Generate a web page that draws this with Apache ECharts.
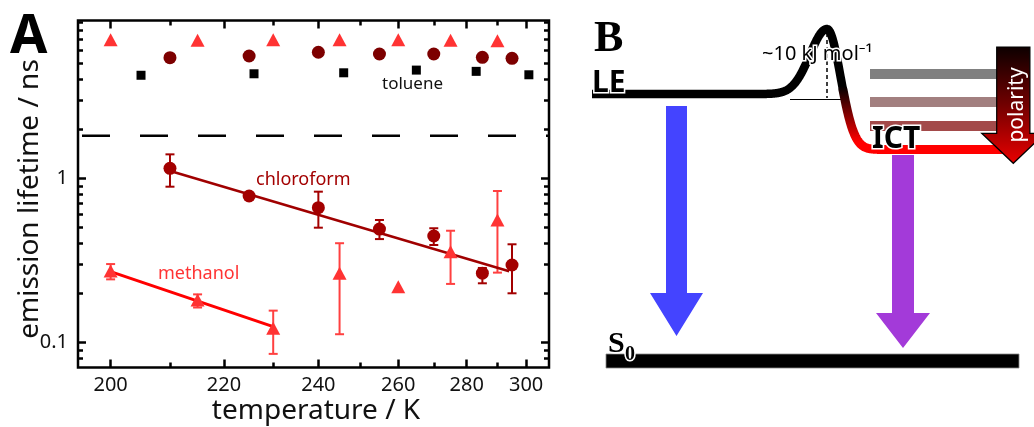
<!DOCTYPE html>
<html>
<head>
<meta charset="utf-8">
<script src="https://cdn.jsdelivr.net/npm/echarts@6/dist/echarts.min.js"></script>
<style>
  html, body { margin: 0; padding: 0; background: #fff; }
  #chart { width: 1034px; height: 427px; }
</style>
</head>
<body>
<div id="chart"></div>
<script>
// Emission lifetimes (ns) versus temperature (K), plotted as log(tau) against 1/T.
const methanolT      = [200, 215, 230, 245, 260, 275, 290];
const methanolTau    = [0.272, 0.181, 0.122, 0.264, 0.218, 0.357, 0.557];
const methanolLo     = [0.242, 0.163, 0.085, 0.112, 0.218, 0.227, 0.266];
const methanolHi     = [0.300, 0.196, 0.156, 0.402, 0.218, 0.479, 0.837];
const methanolLong   = [7.0, 6.95, 7.0, 7.0, 7.0, 6.95, 6.9];

const chloroformT    = [210, 225, 240, 255, 270, 285, 295];
const chloroformTau  = [1.151, 0.780, 0.662, 0.490, 0.445, 0.264, 0.296];
const chloroformLo   = [0.889, 0.745, 0.500, 0.426, 0.392, 0.229, 0.199];
const chloroformHi   = [1.400, 0.815, 0.829, 0.557, 0.496, 0.284, 0.396];
const chloroformLong = [5.44, 5.57, 5.87, 5.73, 5.73, 5.47, 5.39];

const tolueneT       = [205, 226, 246, 265, 283, 301];
const tolueneTau     = [4.25, 4.34, 4.40, 4.57, 4.49, 4.28];

// Arrhenius fits (straight lines in log(tau) vs 1/T)
const methanolFitT     = [200, 230];
const methanolFitTau   = [0.2696, 0.1245];
const chloroformFitT   = [210.5, 294];
const chloroformFitTau = [1.097, 0.271];

const breakTau = 1.82;           // dashed separator between the two lifetime regimes
const tempRange = [194.9, 308.5];
const tauRange = [0.0702, 9.17];
const tempMajor = [200, 220, 240, 260, 280, 300];
const tempMinor = [210, 230, 250, 270, 290];
const tauMajor = [0.1, 1];
const tauMinor = [0.08, 0.09, 0.2, 0.3, 0.4, 0.5, 0.6, 0.7, 0.8, 0.9, 2, 3, 4, 5, 6, 7, 8, 9];

const FONT = '"Noto Sans", "DejaVu Sans", sans-serif';
const inv = T => 1000 / T;
const lg = v => Math.log10(v);
const pts = (T, tau) => T.map((t, i) => [inv(t), lg(tau[i])]);
const bars = (T, lo, hi) => T.map((t, i) => [inv(t), lg(lo[i]), lg(hi[i])]);

const xMin = inv(tempRange[1]), xMax = inv(tempRange[0]);
const yMin = lg(tauRange[0]), yMax = lg(tauRange[1]);

function xAxisDef(pos, ticks, len, withLabels) {
  return {
    type: 'value', position: pos, min: xMin, max: xMax, inverse: true,
    splitLine: { show: false }, axisLine: { show: false, onZero: false },
    axisTick: { show: true, inside: true, length: len, customValues: ticks.map(inv),
                lineStyle: { color: '#000', width: 2.5 } },
    axisLabel: withLabels ? {
      show: true, customValues: ticks.map(inv), margin: 8,
      formatter: v => String(Math.round(1000 / v)),
      fontSize: 20, color: '#111', fontFamily: FONT
    } : { show: false }
  };
}
function yAxisDef(pos, ticks, len, withLabels) {
  return {
    type: 'value', position: pos, min: yMin, max: yMax,
    splitLine: { show: false }, axisLine: { show: false, onZero: false },
    axisTick: { show: true, inside: true, length: len, customValues: ticks.map(lg),
                lineStyle: { color: '#000', width: 2.5 } },
    axisLabel: withLabels ? {
      show: true, customValues: ticks.map(lg), margin: 10,
      formatter: v => String(+Math.pow(10, v).toPrecision(3)),
      fontSize: 20, color: '#111', fontFamily: FONT
    } : { show: false }
  };
}

function errorSeries(data, color) {
  return {
    type: 'custom', xAxisIndex: 0, yAxisIndex: 0, data: data, z: 2,
    encode: { x: 0, y: [1, 2] },
    renderItem: (params, api) => {
      const x = api.value(0);
      const lo = api.coord([x, api.value(1)]);
      const hi = api.coord([x, api.value(2)]);
      if (Math.abs(lo[1] - hi[1]) < 1) return null;
      const w = 4.5, st = { stroke: color, lineWidth: 2 };
      return { type: 'group', children: [
        { type: 'line', shape: { x1: hi[0], y1: hi[1], x2: lo[0], y2: lo[1] }, style: st },
        { type: 'line', shape: { x1: hi[0] - w, y1: hi[1], x2: hi[0] + w, y2: hi[1] }, style: st },
        { type: 'line', shape: { x1: lo[0] - w, y1: lo[1], x2: lo[0] + w, y2: lo[1] }, style: st }
      ]};
    }
  };
}
function scatter(data, symbol, size, color) {
  return { type: 'scatter', data: data, symbol: symbol, symbolSize: size, z: 4,
           itemStyle: { color: color, opacity: 1 }, silent: true };
}
function fitLine(T, tau, color, width) {
  return { type: 'line', data: pts(T, tau), symbol: 'none', z: 3, silent: true,
           lineStyle: { color: color, width: width } };
}

// ---- energy-level scheme (panel B) ----
const LE_Y = 94, ICT_Y = 149.5, PEAK_X = 827, PEAK_Y = 29;
function barrier(x) {
  if (x <= PEAK_X) return LE_Y - (LE_Y - PEAK_Y) * Math.exp(-Math.pow((x - PEAK_X) / 17, 2) / 2);
  return ICT_Y - (ICT_Y - PEAK_Y) * Math.exp(-Math.pow((x - PEAK_X) / 13.5, 2) / 2);
}
const curveA = [], curveB = [];
for (let x = 592; x <= 843; x += 0.5) curveA.push([x, barrier(x)]);
for (let x = 843; x <= 1002; x += 0.5) curveB.push([x, barrier(x)]);

function downArrow(cx, top, headTop, tip, shaftHalf, headHalf, fill, stroke) {
  return { type: 'polygon', z: 10,
    shape: { points: [[cx - shaftHalf, top], [cx + shaftHalf, top], [cx + shaftHalf, headTop],
                      [cx + headHalf, headTop], [cx, tip], [cx - headHalf, headTop], [cx - shaftHalf, headTop]] },
    style: { fill: fill, stroke: stroke || null, lineWidth: stroke ? 1.2 : 0 } };
}
function label(text, x, y, font, opts) {
  return { type: 'text', z: 20, x: x, y: y,
    style: Object.assign({ text: text, font: font, fill: '#000', align: 'left', verticalAlign: 'middle' }, opts || {}) };
}
const outline = { stroke: '#fff', lineWidth: 3 };

const option = {
  animation: false,
  backgroundColor: '#fff',
  grid: { left: 78, top: 20.5, right: 485, bottom: 59.5, show: true,
          borderColor: '#000', borderWidth: 2.5, backgroundColor: 'transparent' },
  xAxis: [
    xAxisDef('bottom', tempMajor, 8, true),
    xAxisDef('bottom', tempMinor, 5, false),
    xAxisDef('top', tempMajor, 8, false),
    xAxisDef('top', tempMinor, 5, false)
  ],
  yAxis: [
    yAxisDef('left', tauMajor, 8, true),
    yAxisDef('left', tauMinor, 5, false),
    yAxisDef('right', tauMajor, 8, false),
    yAxisDef('right', tauMinor, 5, false)
  ],
  series: [
    { type: 'line', data: [[xMax, lg(breakTau)], [xMin, lg(breakTau)]], symbol: 'none', z: 2, silent: true,
      lineStyle: { color: '#000', width: 2.5, type: [28, 30], dashOffset: 54 } },
    errorSeries(bars(chloroformT, chloroformLo, chloroformHi), '#a30000'),
    errorSeries(bars(methanolT, methanolLo, methanolHi), '#ff4040'),
    fitLine(chloroformFitT, chloroformFitTau, '#a00000', 2.5),
    fitLine(methanolFitT, methanolFitTau, '#ff0000', 3),
    scatter(pts(chloroformT, chloroformTau), 'circle', 13, '#a30000'),
    scatter(pts(methanolT, methanolTau), 'triangle', [14, 13], '#ff3333'),
    scatter(pts(methanolT, methanolLong), 'triangle', [14, 13], '#ff3333'),
    scatter(pts(chloroformT, chloroformLong), 'circle', 13, '#7d0000'),
    scatter(pts(tolueneT, tolueneTau), 'rect', 9, '#000')
  ],
  graphic: { elements: [
    // panel A annotations
    label('A', 10, 38, 'bold 54px ' + FONT),
    label('toluene', 382, 84, '17px ' + FONT, { fill: '#111' }),
    label('chloroform', 256, 180, '18px ' + FONT, { fill: '#a30000' }),
    label('methanol', 158, 274, '18px ' + FONT, { fill: '#ff3333' }),
    label('temperature / K', 316, 411, '28px ' + FONT, { align: 'center', fill: '#111' }),
    { type: 'text', z: 20, x: 30, y: 199, rotation: Math.PI / 2,
      style: { text: 'emission lifetime / ns', font: '28px ' + FONT, fill: '#111', align: 'center', verticalAlign: 'middle' } },

    // panel B
    label('B', 594, 40, 'bold 44px "Liberation Serif", serif'),
    { type: 'rect', z: 5, shape: { x: 870, y: 69, width: 130, height: 10 }, style: { fill: '#808080' } },
    { type: 'rect', z: 5, shape: { x: 870, y: 97, width: 130, height: 10 }, style: { fill: '#a27f7f' } },
    { type: 'rect', z: 5, shape: { x: 870, y: 121, width: 130, height: 10 }, style: { fill: '#a34a4a' } },
    { type: 'line', z: 6, shape: { x1: 790, y1: 99.5, x2: 841, y2: 99.5 }, style: { stroke: '#000', lineWidth: 1 } },
    { type: 'line', z: 8, shape: { x1: PEAK_X, y1: 33, x2: PEAK_X, y2: 98 },
      style: { stroke: '#000', lineWidth: 1.5, lineDash: [4, 3] } },
    { type: 'polyline', z: 7, shape: { points: curveA },
      style: { stroke: '#000', lineWidth: 8.5, fill: 'none', lineJoin: 'round', lineCap: 'butt' } },
    { type: 'polyline', z: 7, shape: { points: curveB },
      style: { fill: 'none', lineWidth: 9, lineJoin: 'round', lineCap: 'round',
               stroke: { type: 'linear', x: 0, y: 86, x2: 0, y2: 142, global: true,
                         colorStops: [{ offset: 0, color: '#000' }, { offset: 1, color: '#ff0000' }] } } },
    { type: 'rect', z: 7, shape: { x: 606, y: 354, width: 413, height: 14 },
      style: { fill: '#000', stroke: '#888', lineWidth: 0.8 } },
    downArrow(676.5, 106, 293, 336, 10.5, 26.5, '#4444ff'),
    downArrow(903, 155, 313, 348, 11, 27, '#a33ad9'),
    downArrow(1013.3, 47, 133.3, 163.3, 16.6, 31.6,
      { type: 'linear', x: 0, y: 47, x2: 0, y2: 163, global: true,
        colorStops: [{ offset: 0, color: '#0d0000' }, { offset: 0.5, color: '#720000' }, { offset: 1, color: '#e80000' }] },
      '#000'),
    { type: 'text', z: 21, x: 1017, y: 105, rotation: Math.PI / 2,
      style: { text: 'polarity', font: '21px ' + FONT, fill: '#fff', align: 'center', verticalAlign: 'middle' } },
    label('~10 kJ mol\u207B\u00B9', 762, 54, '20px ' + FONT, outline),
    label('LE', 592, 83, 'bold 30px ' + FONT, outline),
    label('ICT', 872, 139, 'bold 30px ' + FONT, outline),
    label('S', 608, 344, 'bold 30px "Liberation Serif", serif', outline),
    label('0', 625, 355, 'bold 20px "Liberation Serif", serif', outline)
  ] }
};

const chart = echarts.init(document.getElementById('chart'), null, { renderer: 'canvas' });
chart.setOption(option);
</script>
</body>
</html>
